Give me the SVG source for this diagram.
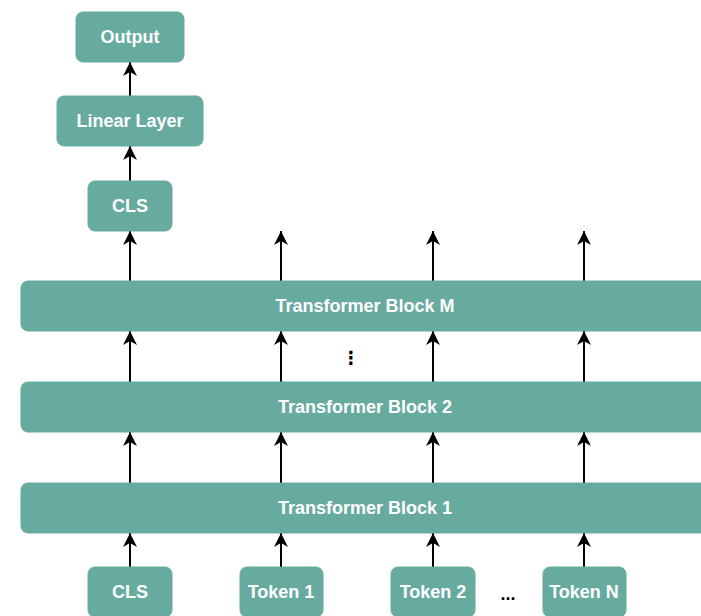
<svg xmlns="http://www.w3.org/2000/svg" width="701" height="616" viewBox="0 0 701 616">
<defs>
<style>
.box{fill:#67AB9F;stroke:#67AB9F;stroke-width:1}
.lbl{font-family:"Liberation Sans",Arial,Helvetica,sans-serif;font-weight:bold;font-size:18px;fill:#ffffff;text-anchor:middle}
.dk{font-family:"Liberation Sans","DejaVu Sans",sans-serif;font-weight:bold;font-size:18px;fill:#000000;text-anchor:middle}
.edge{stroke:#000000;stroke-width:2;fill:none;marker-end:url(#arr)}
</style>
<marker id="arr" markerUnits="userSpaceOnUse" markerWidth="16" markerHeight="16" viewBox="0 0 16 16" refX="15" refY="8" orient="auto">
<path d="M15,8 L1,1 L5,8 L1,15 Z" fill="#000000"/>
</marker>
</defs>
<rect width="701" height="616" fill="#ffffff"/>
<g id="edges">
<line class="edge" x1="130" y1="96" x2="130" y2="62"/>
<line class="edge" x1="130" y1="181" x2="130" y2="146"/>
<line class="edge" x1="130" y1="281" x2="130" y2="231"/>
<line class="edge" x1="281" y1="281" x2="281" y2="231"/>
<line class="edge" x1="433" y1="281" x2="433" y2="231"/>
<line class="edge" x1="584" y1="281" x2="584" y2="231"/>
<line class="edge" x1="130" y1="382" x2="130" y2="331"/>
<line class="edge" x1="281" y1="382" x2="281" y2="331"/>
<line class="edge" x1="433" y1="382" x2="433" y2="331"/>
<line class="edge" x1="584" y1="382" x2="584" y2="331"/>
<line class="edge" x1="130" y1="483" x2="130" y2="432"/>
<line class="edge" x1="281" y1="483" x2="281" y2="432"/>
<line class="edge" x1="433" y1="483" x2="433" y2="432"/>
<line class="edge" x1="584" y1="483" x2="584" y2="432"/>
<line class="edge" x1="130" y1="567" x2="130" y2="533"/>
<line class="edge" x1="281" y1="567" x2="281" y2="533"/>
<line class="edge" x1="433" y1="567" x2="433" y2="533"/>
<line class="edge" x1="584" y1="567" x2="584" y2="533"/>
</g>
<g id="output"><rect class="box" x="76" y="12" width="108" height="50" rx="7"/><text class="lbl" x="130" y="43">Output</text></g>
<g id="linear"><rect class="box" x="57" y="96" width="146" height="50" rx="7"/><text class="lbl" x="130" y="127">Linear Layer</text></g>
<g id="cls-out"><rect class="box" x="88" y="181" width="84" height="50" rx="7"/><text class="lbl" x="130" y="212">CLS</text></g>
<g id="blockM"><rect class="box" x="21" y="281" width="688" height="50" rx="7"/><text class="lbl" x="365" y="312">Transformer Block M</text></g>
<g id="dots-v"><text class="dk" x="351" y="364" font-family="DejaVu Sans">⋮</text></g>
<g id="block2"><rect class="box" x="21" y="382" width="688" height="50" rx="7"/><text class="lbl" x="365" y="413">Transformer Block 2</text></g>
<g id="block1"><rect class="box" x="21" y="483" width="688" height="50" rx="7"/><text class="lbl" x="365" y="514">Transformer Block 1</text></g>
<g id="cls-in"><rect class="box" x="88" y="567" width="84" height="50" rx="7"/><text class="lbl" x="130" y="598">CLS</text></g>
<g id="token1"><rect class="box" x="240" y="567" width="83" height="50" rx="7"/><text class="lbl" x="281" y="598">Token 1</text></g>
<g id="token2"><rect class="box" x="391" y="567" width="84" height="50" rx="7"/><text class="lbl" x="433" y="598">Token 2</text></g>
<g id="dots-h"><text class="dk" x="508" y="600">...</text></g>
<g id="tokenN"><rect class="box" x="543" y="567" width="83" height="50" rx="7"/><text class="lbl" x="584" y="598">Token N</text></g>
</svg>
